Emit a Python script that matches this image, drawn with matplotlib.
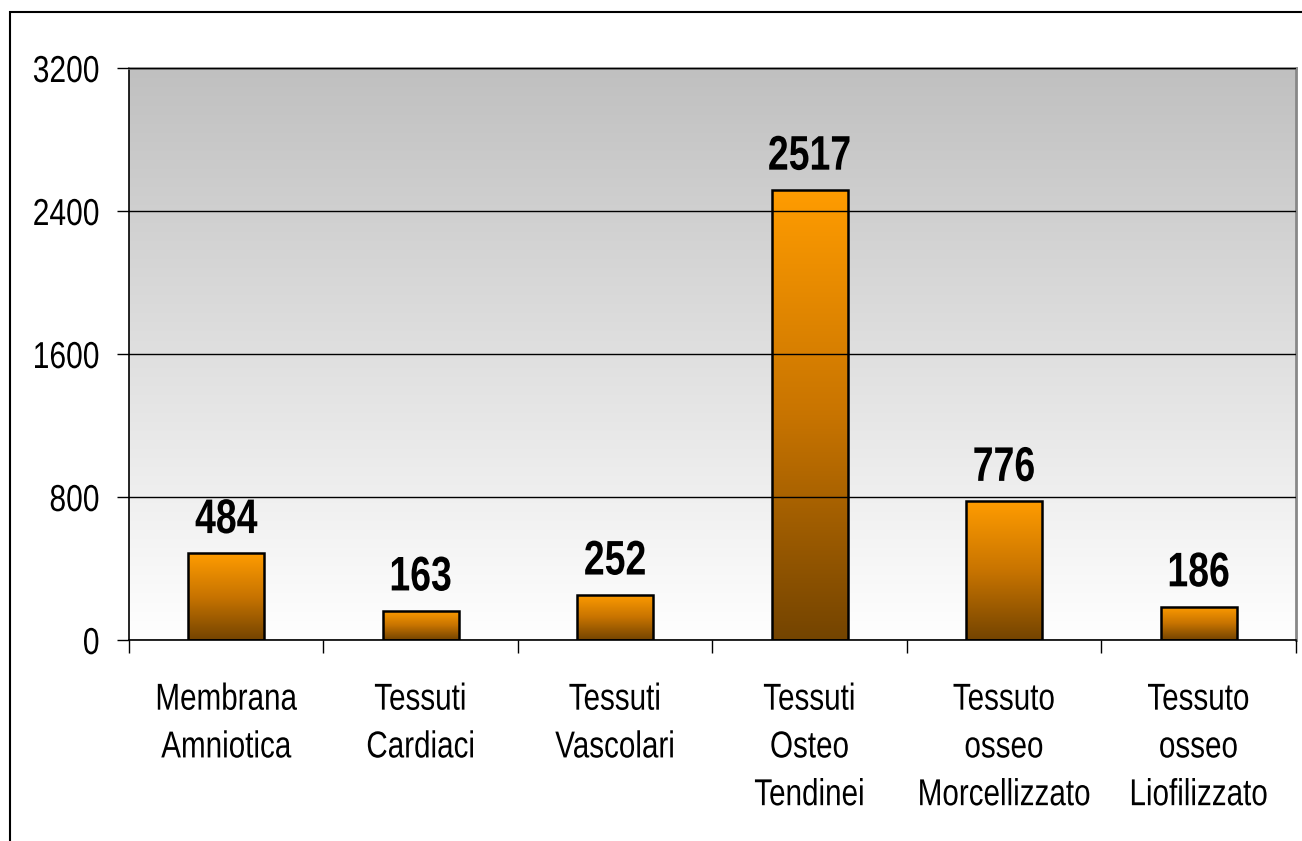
import numpy as np
import matplotlib
matplotlib.use("Agg")
import matplotlib.pyplot as plt
from matplotlib.patches import Rectangle
from matplotlib.colors import LinearSegmentedColormap
from matplotlib.patheffects import AbstractPathEffect
from matplotlib.transforms import Affine2D

categories = ["Membrana\nAmniotica", "Tessuti\nCardiaci", "Tessuti\nVascolari",
              "Tessuti\nOsteo\nTendinei", "Tessuto\nosseo\nMorcellizzato",
              "Tessuto\nosseo\nLiofilizzato"]
values = [484, 163, 252, 2517, 776, 186]
yticks = [0, 800, 1600, 2400, 3200]

plt.rcParams['font.family'] = ["Liberation Sans", "DejaVu Sans"]


class Narrow(AbstractPathEffect):
    """Draw text condensed horizontally (narrow face look)."""
    def __init__(self, sx=0.78, anchor="center"):
        super().__init__()
        self.sx = sx
        self.anchor = anchor

    def draw_path(self, renderer, gc, tpath, affine, rgbFace=None):
        v = tpath.vertices
        if len(v):
            xmin, xmax = v[:, 0].min(), v[:, 0].max()
        else:
            xmin = xmax = 0.0
        c = (xmin + xmax) / 2 if self.anchor == "center" else xmax
        t = Affine2D().translate(-c, 0).scale(self.sx, 1).translate(c, 0) + affine
        renderer.draw_path(gc, tpath, t, rgbFace)


fig = plt.figure(figsize=(13.02, 8.41), dpi=100)
ax = fig.add_axes([129/1302, 1-640/841, (1296-129)/1302, (640-68)/841])

# figure frame
fig.patches.append(Rectangle((10/1302, -0.5), 2.0, 1.5 - 12/841,
                             transform=fig.transFigure, fill=False,
                             edgecolor="black", linewidth=1.5))

ax.set_xlim(-0.5, len(values) - 0.5)
ax.set_ylim(0, 3200)

# background gradient
bg = LinearSegmentedColormap.from_list("bg", ["#ffffff", "#c0c0c0"])
grad = np.linspace(0, 1, 256).reshape(-1, 1)
ax.imshow(grad, extent=(-0.5, len(values) - 0.5, 0, 3200), origin="lower",
          cmap=bg, aspect="auto", zorder=0)

# bars with gradient
bar_cmap = LinearSegmentedColormap.from_list("bar", ["#744400", "#c87400", "#ff9c00"])
width = 0.39
bars = ax.bar(range(len(values)), values, width=width, color="none",
              edgecolor="black", linewidth=1.8, zorder=3)
for b, v in zip(bars, values):
    x0 = b.get_x()
    im = ax.imshow(grad, extent=(x0, x0 + width, 0, v), origin="lower",
                   cmap=bar_cmap, aspect="auto", zorder=2)
    im.set_clip_path(b)
    ax.annotate(f"{v}", (b.get_x() + width / 2, v), xytext=(0, 7.5),
                textcoords="offset points", ha="center", va="bottom",
                fontsize=35, fontweight="bold", zorder=4,
                path_effects=[Narrow(0.77)])

ax.set_yticks(yticks)
ax.set_yticklabels([str(t) for t in yticks], fontsize=27)
for lab in ax.get_yticklabels():
    lab.set_path_effects([Narrow(0.8, anchor="right")])
ax.yaxis.grid(True, color="black", linewidth=1.0, zorder=1)
ax.set_axisbelow(False)
ax.tick_params(axis="y", length=9, width=1, pad=12, direction="out")

ax.set_xticks(range(len(values)))
ax.set_xticklabels(categories, fontsize=27, linespacing=1.42, va="top")
for lab in ax.get_xticklabels():
    lab.set_path_effects([Narrow(0.79)])
ax.set_xticks(np.arange(-0.5, len(values)), minor=True)
ax.tick_params(axis="x", which="major", length=0, pad=30)
ax.tick_params(axis="x", which="minor", length=9, width=1, direction="out")

for s in ["top", "right"]:
    ax.spines[s].set_color("#888888")
    ax.spines[s].set_linewidth(2)
for s in ["left", "bottom"]:
    ax.spines[s].set_color("black")
    ax.spines[s].set_linewidth(1.2)

fig.savefig("out.png", dpi=100)
